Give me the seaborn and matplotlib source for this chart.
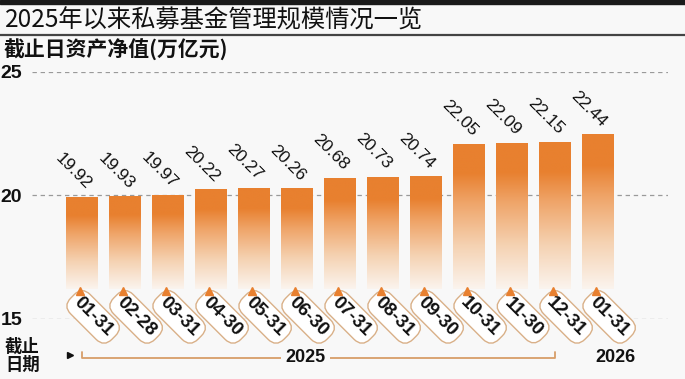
import numpy as np
import pandas as pd
import matplotlib
matplotlib.use("Agg")
import matplotlib.pyplot as plt
import matplotlib.transforms as mtransforms
from matplotlib import font_manager
from matplotlib.colors import LinearSegmentedColormap
import seaborn as sns

# data
dates = ["2025-01-31", "2025-02-28", "2025-03-31", "2025-04-30", "2025-05-31",
         "2025-06-30", "2025-07-31", "2025-08-31", "2025-09-30", "2025-10-31",
         "2025-11-30", "2025-12-31", "2026-01-31"]
values = [19.92, 19.93, 19.97, 20.22, 20.27, 20.26, 20.68, 20.73, 20.74,
          22.05, 22.09, 22.15, 22.44]
tag_labels = [d[5:] for d in dates]
y_ticks = [15, 20, 25]

title = "2025年以来私募基金管理规模情况一览"
subtitle = "截止日资产净值(万亿元)"

sns.set_theme(style="white")
cjk = ["Noto Sans CJK SC", "DejaVu Sans"]
names = {f.name for f in font_manager.fontManager.ttflist}
narrow = "Liberation Sans Narrow" if "Liberation Sans Narrow" in names else "Liberation Sans"
plt.rcParams["font.family"] = cjk

ORANGE = "#E8802F"
BG = "#F8F8F8"
TAN = "#D9B088"

df = pd.DataFrame({"date": dates, "value": values})

fig = plt.figure(figsize=(6.85, 3.79), dpi=100, facecolor=BG)
W, H = 685, 379
ax = fig.add_axes([32 / W, 1 - 319 / H, 636 / W, (319 - 72) / H])
ax.set_facecolor("none")

sns.barplot(data=df, x="date", y="value", color=ORANGE, width=0.74, ax=ax,
            saturation=1)

# gradient fill: solid at the top, fading out toward the date tags
cmap = LinearSegmentedColormap.from_list(
    "fade", [(0.0, "#FBF4EE"), (0.3, "#F5D2B2"), (0.6, "#EFA468"),
             (0.8, ORANGE), (1.0, ORANGE)])
y_bot = 16.2
for p in ax.patches:
    x0, w, h = p.get_x(), p.get_width(), p.get_height()
    p.set_visible(False)
    img = cmap(np.linspace(0, 1, 256))[:, None, :]
    ax.imshow(img, extent=[x0, x0 + w, y_bot, h], origin="lower",
              aspect="auto", zorder=2, interpolation="bilinear")

ax.set_xlim(-50 / 43, 586 / 43)
ax.set_ylim(15, 25)
ax.set_yticks(y_ticks)
ax.set_yticklabels([str(v) for v in y_ticks], family=narrow, fontweight="bold",
                   fontsize=14, color="#111111")
ax.tick_params(axis="y", length=0, pad=7)
ax.set_xticks([])
ax.set_xlabel("")
ax.set_ylabel("")
for s in ax.spines.values():
    s.set_visible(False)
for yv in y_ticks:
    ax.axhline(yv, color="#9A9A9A", lw=0.9, ls=(0, (3.5, 3)), zorder=1)

# value labels
for i, v in enumerate(values):
    ax.annotate(f"{v:.2f}", xy=(i, v), xytext=(-6.5, 19), textcoords="offset points",
                rotation=-45, ha="center", va="center", fontsize=12.5,
                family=narrow, color="#111111", zorder=4)

# date tags
for i, lab in enumerate(tag_labels):
    ax.annotate(lab, xy=(i, 15), xytext=(8, 1.5), textcoords="offset points",
                rotation=-45, ha="center", va="center", fontsize=13.5,
                family=narrow, fontweight="bold", color="#111111",
                annotation_clip=False, zorder=5,
                bbox=dict(boxstyle="round,pad=0.28,rounding_size=0.6",
                          fc="white", ec=TAN, lw=1))
    ax.plot(i - 0.04, 16.12, marker="^", ms=5.5, color=ORANGE, mec=ORANGE,
            clip_on=False, zorder=6)

# header
fig.patches.append(plt.Rectangle((0, 1 - 4 / H), 1, 4 / H, transform=fig.transFigure,
                                 color="#1A1A1A", zorder=0))
fig.text(5 / W, 1 - 21 / H, title, fontsize=17.5, color="#111111",
         va="center", ha="left")
fig.add_artist(plt.Line2D([0, 1], [1 - 35 / H, 1 - 35 / H], transform=fig.transFigure,
                          color="#444444", lw=1.6))
fig.text(4 / W, 1 - 50 / H, subtitle, fontsize=15, color="#111111",
         va="center", ha="left", fontweight="bold")

# footer: date axis legend
fig.text(5 / W, 1 - 356 / H, "截止\n日期", fontsize=12.5, color="#111111",
         va="center", ha="left", linespacing=1.05, fontweight="bold")
tr = mtransforms.blended_transform_factory(ax.transData, fig.transFigure)
yb = 1 - 358 / H
ytop = 1 - 352 / H
ax.plot([0, 0, 11, 11], [ytop, yb, yb, ytop], transform=tr, color="#D79E68",
        lw=1.3, clip_on=False)
ax.plot([-0.28], [1 - 355 / H], transform=tr, marker=">", ms=5, color="#111111",
        clip_on=False)
ax.text(5.2, yb, "2025", transform=tr, ha="center", va="center", fontsize=13,
        family=narrow, fontweight="bold", color="#111111",
        bbox=dict(boxstyle="square,pad=0.25", fc=BG, ec="none"))
ax.text(12.4, yb, "2026", transform=tr, ha="center", va="center", fontsize=13,
        family=narrow, fontweight="bold", color="#111111")

fig.savefig("out.png", dpi=100, facecolor=BG)
